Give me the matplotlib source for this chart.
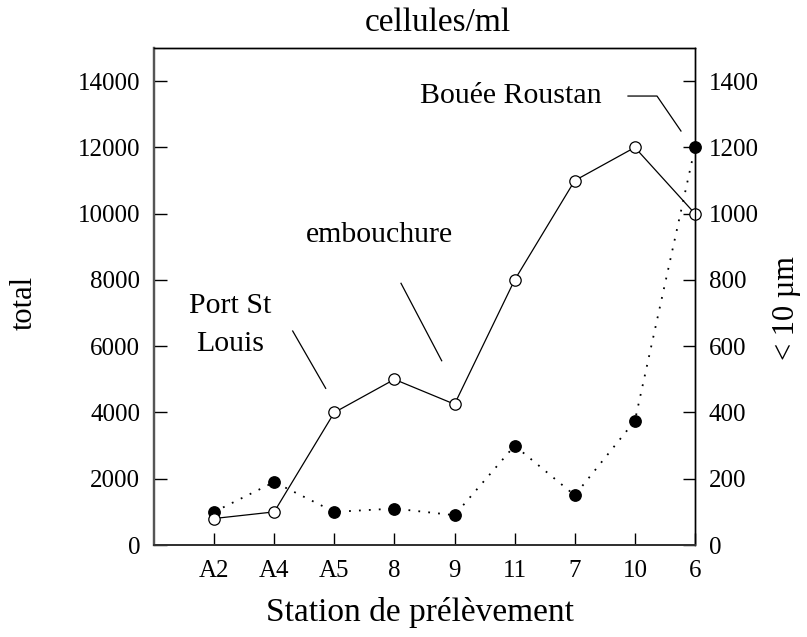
import matplotlib
matplotlib.use("Agg")
import matplotlib.pyplot as plt

plt.rcParams["font.family"] = ["Liberation Serif", "DejaVu Serif"]

# sampling stations along the transect
stations = ["A2", "A4", "A5", "8", "9", "11", "7", "10", "6"]
# total cell counts (cells/ml, left axis)
total = [800, 1000, 4000, 5000, 4250, 8000, 11000, 12000, 10000]
# cells smaller than 10 um (cells/ml, right axis)
small = [100, 190, 100, 110, 90, 300, 150, 375, 1200]

left_ticks = list(range(0, 14001, 2000))
right_ticks = list(range(0, 1401, 200))

fig = plt.figure(figsize=(8.07, 6.37), dpi=100)
ax = fig.add_axes([0.1908, 0.1444, 0.6704, 0.7802])
ax2 = ax.twinx()

x = list(range(len(stations)))

ax.plot(x, total, "-", color="black", lw=0.9, marker="o", ms=8.2,
        mfc="white", mec="black", mew=0.9, clip_on=False)
ax2.plot(x, small, color="black", lw=1.3, dashes=(1.0, 4.5), marker="o", ms=8.2,
         mfc="black", mec="black", clip_on=False)

# total series drawn above the small-cell series
ax.set_zorder(ax2.get_zorder() + 1)
ax.patch.set_visible(False)

ax.set_xlim(-1, 8)
ax.set_ylim(0, 15000)
ax2.set_ylim(0, 1500)
ax.set_xticks(x)
ax.set_xticklabels(stations)
ax.set_yticks(left_ticks)
ax2.set_yticks(right_ticks)

ax.tick_params(axis="both", direction="in", length=9, width=1, labelsize=18, pad=10)
ax.tick_params(axis="x", pad=11)
ax2.tick_params(axis="y", direction="in", length=9, width=1, labelsize=18, pad=10)

for a in (ax, ax2):
    a.spines["left"].set_color("#555555")
    a.spines["left"].set_linewidth(1.6)
    a.spines["bottom"].set_color("#333333")
    a.spines["bottom"].set_linewidth(1.4)
    a.spines["top"].set_linewidth(1.0)
    a.spines["right"].set_linewidth(1.0)

# site labels with leader lines
ann = dict(transform=ax.transAxes, fontsize=21.5, ha="center", va="baseline")
ax.text(0.1414, 0.4674, "Port St", **ann)
ax.text(0.1414, 0.3909, "Louis", **ann)
ax.text(0.4168, 0.609, "embouchure", **ann)
ax.text(0.659, 0.8893, "Bouée Roustan", **ann)

lk = dict(transform=ax.transAxes, color="black", lw=0.9, clip_on=False)
ax.plot([0.2564, 0.3174], [0.4306, 0.3153], **lk)
ax.plot([0.4566, 0.5318], [0.5266, 0.3708], **lk)
ax.plot([0.8762, 0.9298, 0.9741], [0.9034, 0.9034, 0.8330], **lk)

fig.text(0.5421, 0.9513, "cellules/ml", fontsize=24, ha="center", va="baseline")
fig.text(0.5204, 0.0251, "Station de prélèvement", fontsize=24, ha="center", va="baseline")
fig.text(0.0297, 0.5243, "total", fontsize=22, rotation=90, ha="center", va="center")
fig.text(0.9752, 0.5165, "< 10 µm", fontsize=22, rotation=90, ha="center", va="center")

fig.savefig("out.png", dpi=100)
